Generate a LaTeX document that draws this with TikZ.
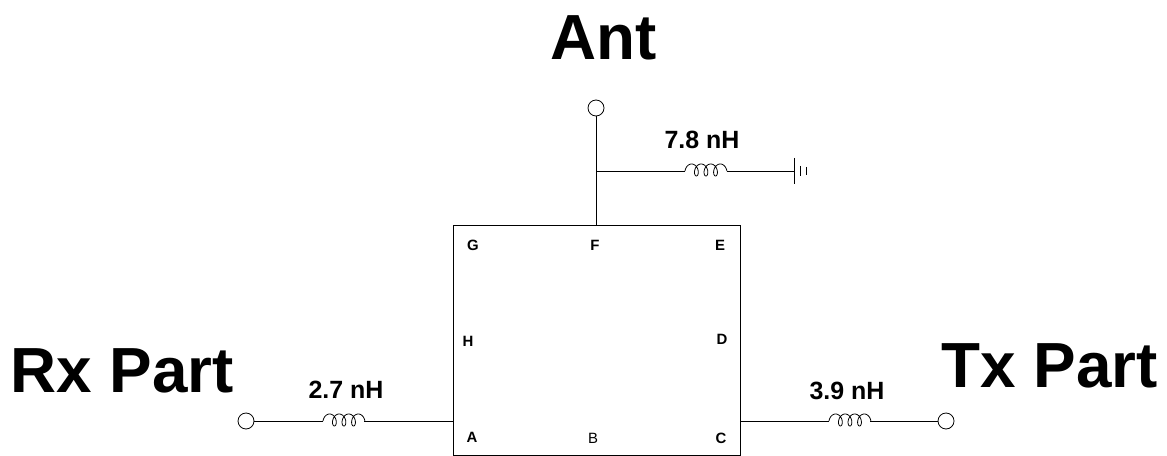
\documentclass[tikz,border=0pt]{standalone}
\usepackage{fontspec}
\setmainfont{Liberation Sans}
\newlength{\pxl}
\setlength{\pxl}{0.02cm}
\tikzset{
	pin/.style={draw,circle,fill=white,inner sep=0pt,minimum size=16\pxl},
	pinname/.style={font=\fontsize{36.3}{36}\bfseries},
	value/.style={font=\fontsize{14.2}{15}\bfseries},
	port/.style={font=\fontsize{8.5}{9}\bfseries},
}
% coil drawn between two end points (left end at #1)
\newcommand{\coil}[1]{
	\draw[shift={(#1)},samples=160,domain=-100:1180,smooth] plot({6.6+\x*0.02656+4*sin(\x)},{-1-6*cos(\x)});
}
\begin{document}
\begin{tikzpicture}[x=0.02cm,y=-0.02cm,line width=0.45pt]
	\useasboundingbox (0,0) rectangle (1167,456);
	% chip
	\node (chip) [draw,rectangle,minimum width=287\pxl,minimum height=230\pxl,inner sep=0pt,anchor=north west] at (453,225) {};
	\node (G) [port] at (473,245) {G};
	\node (F) [port] at (595,245) {F};
	\node (E) [port] at (720,245) {E};
	\node (H) [port] at (468,341) {H};
	\node (D) [port] at (722,339) {D};
	\node (A) [port] at (472,437) {A};
	\node (B) [port,font=\fontsize{8.5}{9}\mdseries] at (593,438) {B};
	\node (C) [port] at (721,438) {C};
	% pins
	\node (ant) [pin] at (596,108) {};
	\node (rx) [pin] at (246,421) {};
	\node (tx) [pin] at (946,421) {};
	\node (antname) [pinname] at (604,38) {Ant};
	\node (rxname) [pinname] at (122,371) {Rx Part};
	\node (txname) [pinname] at (1050,366) {Tx Part};
	% points on the wires
	\coordinate (chipf) at (596,225);
	\coordinate (chipa) at (453,421);
	\coordinate (chipc) at (740,421);
	\coordinate (branch) at (596,171);
	\coordinate (gnd) at (794,171);
	\coordinate (shunta) at (685,171);
	\coordinate (shuntb) at (727,171);
	\coordinate (rxa) at (323,421);
	\coordinate (rxb) at (364,421);
	\coordinate (txa) at (829,421);
	\coordinate (txb) at (870,421);
	% wires
	\draw (ant) -- (chipf);
	\draw (branch) -- (shunta);
	\draw (shuntb) -- (gnd);
	\draw (rx) -- (rxa);
	\draw (rxb) -- (chipa);
	\draw (chipc) -- (txa);
	\draw (txb) -- (tx);
	% coils
	\coil{shunta}
	\coil{rxa}
	\coil{txa}
	% ground
	\draw ([yshift=13\pxl]gnd) -- ([yshift=-13\pxl]gnd);
	\draw ([xshift=6\pxl,yshift=5\pxl]gnd) -- ([xshift=6\pxl,yshift=-5\pxl]gnd);
	\draw ([xshift=12\pxl,yshift=4\pxl]gnd) -- ([xshift=12\pxl,yshift=-4\pxl]gnd);
	% values
	\node (shuntval) [value] at (702,140) {7.8 nH};
	\node (rxval) [value] at (346,390) {2.7 nH};
	\node (txval) [value] at (847,391) {3.9 nH};
\end{tikzpicture}
\end{document}
